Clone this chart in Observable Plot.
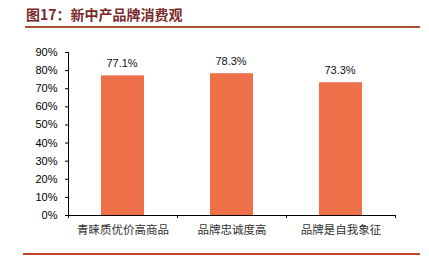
<!DOCTYPE html>
<html>
<head>
<meta charset="utf-8">
<script src="https://cdn.jsdelivr.net/npm/d3@7"></script>
<script src="https://cdn.jsdelivr.net/npm/@observablehq/plot@0.6"></script>
<style>
  html, body { margin: 0; padding: 0; background: #fff; }
  #wrap { position: relative; width: 429px; height: 268px; overflow: hidden; }
  #title { position: absolute; left: 26px; top: 5px; font: bold 14px "Noto Sans CJK SC", sans-serif; color: #7a2a2a; white-space: nowrap; line-height: 18px; }
  #topline { position: absolute; left: 25px; top: 26px; width: 395px; height: 2px; background: #a8502f; }
  #botline { position: absolute; left: 23px; top: 253px; width: 397px; height: 2px; background: #c0472b; }
  #chart { position: absolute; left: 0; top: 0; }
</style>
</head>
<body>
<div id="wrap">
  <div id="chart"></div>
  <div id="title">图17：新中产品牌消费观</div>
  <div id="topline"></div>
  <div id="botline"></div>
</div>
<script>
const categories = ["青睐质优价高商品", "品牌忠诚度高", "品牌是自我象征"];
const values = [77.1, 78.3, 73.3];
const labels = ["77.1%", "78.3%", "73.3%"];
const yTicks = [0, 10, 20, 30, 40, 50, 60, 70, 80, 90];

const data = categories.map((c, i) => ({i, c, v: values[i], label: labels[i]}));
const bounds = d3.range(categories.length + 1);
const centers = categories.map((c, i) => i + 0.5);

const chart = Plot.plot({
  width: 429,
  height: 268,
  marginLeft: 68,
  marginRight: 34,
  marginTop: 52,
  marginBottom: 53,
  style: {background: "transparent", color: "#000"},
  x: {domain: [0, categories.length]},
  y: {domain: [0, 90]},
  marks: [
    Plot.rectY(data, {x1: "i", x2: d => d.i + 1, y: "v", fill: "#ee7049", insetLeft: 33, insetRight: 33}),
    Plot.ruleX([0], {y1: 0, y2: 90, stroke: "#000", strokeWidth: 1}),
    Plot.ruleY([0], {stroke: "#000", strokeWidth: 1}),
    Plot.axisY({ticks: yTicks, tickFormat: d => d + "%", tickSize: 3, tickPadding: 8, fontSize: 11, fontFamily: "Liberation Sans, Arial, sans-serif", label: null, stroke: "#000"}),
    Plot.axisX({ticks: bounds, tickFormat: () => "", tickSize: 3, label: null, stroke: "#000"}),
    Plot.axisX({ticks: centers, tickFormat: d => categories[Math.floor(d)], tickSize: 0, tickPadding: 10, fontSize: 11.5, fontFamily: "Noto Sans CJK SC, sans-serif", fill: "#333", label: null}),
    Plot.text(data, {x: d => d.i + 0.5, y: "v", text: "label", dy: -12, dx: -1, fontSize: 11, fontFamily: "Liberation Sans, Arial, sans-serif", fill: "#111"})
  ]
});
document.getElementById("chart").appendChild(chart);
</script>
</body>
</html>
